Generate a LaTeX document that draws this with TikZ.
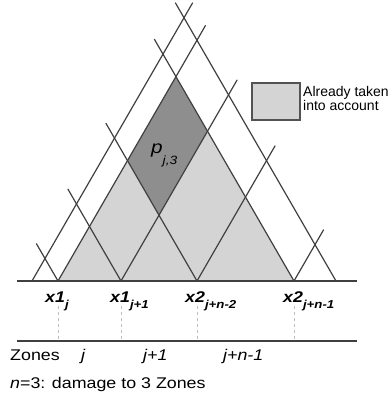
\documentclass[tikz,border=0pt]{standalone}
\usepackage{fontspec}
\setmainfont[FakeStretch=1.15]{Liberation Sans}
\newfontfamily\legendfont{Liberation Sans}
\definecolor{linecol}{RGB}{64,64,64}
\definecolor{lightfill}{RGB}{212,212,212}
\definecolor{darkfill}{RGB}{142,142,142}
\definecolor{dashcol}{RGB}{190,190,190}
\tikzset{
  geo/.style={draw=linecol, line width=1.2pt},
  axisln/.style={draw=linecol, line width=1.8pt},
  dashln/.style={draw=dashcol, line width=0.9pt, dash pattern=on 3pt off 3pt},
  lbl/.style={inner sep=0pt, anchor=base west},
  bigtxt/.style={font=\fontsize{15.5}{18}\selectfont},
  xlbl/.style={inner sep=0pt, anchor=base west, font=\fontsize{15.5}{18}\selectfont\bfseries\itshape},
  legtxt/.style={inner sep=0pt, anchor=base west, font=\legendfont\fontsize{14}{16}\selectfont}
}
\newcommand{\lowsub}[1]{\raisebox{-6pt}{\fontsize{11.5}{13}\selectfont #1}}
\begin{document}
\begin{tikzpicture}[x=1pt,y=-1pt]
\useasboundingbox (0,0) rectangle (390,397);
% base points
\coordinate (b1) at (32,281);
\coordinate (b2) at (58,281);
\coordinate (b3) at (121,281);
\coordinate (b4) at (197,281);
\coordinate (b5) at (294,281);
\coordinate (b6) at (336,281);
% upper ends of rising lines
\coordinate (u1) at (192.7,2.7);
\coordinate (u2) at (205.6,25.3);
\coordinate (u3) at (237.2,79.8);
\coordinate (u4) at (275.2,145.6);
\coordinate (u5) at (323.7,229.6);
% upper ends of falling lines
\coordinate (v6) at (175.3,2.7);
\coordinate (v5) at (154.3,39.1);
\coordinate (v4) at (105.8,123.1);
\coordinate (v3) at (67.8,188.9);
\coordinate (v2) at (36.3,243.5);
% special points
\coordinate (apex) at (176,76.6);
\coordinate (rr) at (207.5,131.2);
\coordinate (ll) at (127.5,160.6);
\coordinate (bb) at (159,215.2);
% fills
\fill[lightfill] (b2) -- (apex) -- (b5) -- cycle;
\fill[darkfill] (apex) -- (rr) -- (bb) -- (ll) -- cycle;
% lines
\foreach \i in {1,...,5} {\draw[geo] (b\i) -- (u\i);}
\foreach \i in {2,...,6} {\draw[geo] (b\i) -- (v\i);}
% base line and zone line
\coordinate (bl) at (17,281);
\coordinate (br) at (357,281);
\coordinate (zl) at (17,341);
\coordinate (zr) at (357,341);
\draw[axisln] (bl) -- (br);
\draw[axisln] (zl) -- (zr);
% dashed drops
\foreach \xx in {58,121,197,294} {\draw[dashln] (\xx,306) -- (\xx,340);}
% labels
\node[xlbl] (x1j) at (45,302) {x1\lowsub{j}};
\node[xlbl] (x1jp) at (110,302) {x1\lowsub{j+1}};
\node[xlbl] (x2a) at (185,302) {x2\lowsub{j+n-2}};
\node[xlbl] (x2b) at (283,302) {x2\lowsub{j+n-1}};
\node[lbl, bigtxt] (zones) at (10,360) {Zones};
\node[lbl, bigtxt] (zj) at (81,360) {\itshape j};
\node[lbl, bigtxt] (zj1) at (143,360) {\itshape j+1};
\node[lbl, bigtxt] (zjn) at (223,360) {\itshape j+n-1};
\node[lbl, bigtxt] (note) at (10,388) {\itshape n\upshape =3: damage to 3 Zones};
\node[lbl, font=\fontsize{18}{20}\selectfont\itshape] (pj) at (151,153) {p\raisebox{-11pt}{\fontsize{12}{13}\selectfont j,3}};
% legend
\draw[draw=linecol!90, line width=1.2pt, fill=lightfill] (252,83) rectangle (300,120);
\node[legtxt] (leg1) at (303,96.5) {Already taken};
\node[legtxt] (leg2) at (303,110) {into account};
\end{tikzpicture}
\end{document}
